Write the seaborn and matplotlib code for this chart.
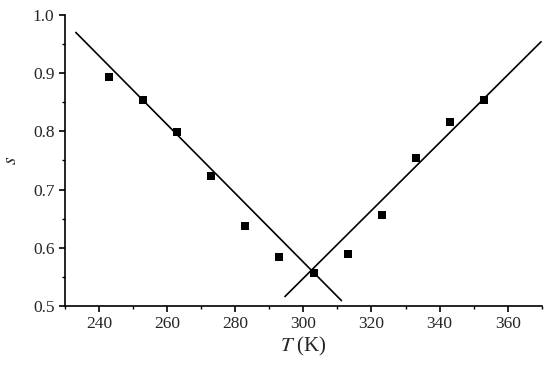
import matplotlib
matplotlib.use('Agg')
import matplotlib.pyplot as plt
import seaborn as sns
import pandas as pd
from matplotlib.ticker import MultipleLocator

# measured points
temps = [243, 253, 263, 273, 283, 293, 303, 313, 323, 333, 343, 353]
s_vals = [0.893, 0.854, 0.798, 0.723, 0.638, 0.584, 0.557, 0.590, 0.656, 0.755, 0.816, 0.853]

# the two straight guide lines (end points)
left_x = [233.2, 311.2]
left_y = [0.970, 0.509]
right_x = [294.6, 369.8]
right_y = [0.516, 0.954]

df = pd.DataFrame({"T": temps, "s": s_vals})

sns.set_style("ticks")
plt.rcParams['font.family'] = ['Liberation Serif', 'DejaVu Serif']
plt.rcParams['mathtext.fontset'] = 'stix'

fig, ax = plt.subplots(figsize=(5.5, 3.65), dpi=100)
fig.subplots_adjust(left=0.118, right=0.985, bottom=0.162, top=0.959)

sns.lineplot(x=left_x, y=left_y, ax=ax, color="black", linewidth=1.2)
sns.lineplot(x=right_x, y=right_y, ax=ax, color="black", linewidth=1.2)
sns.scatterplot(data=df, x="T", y="s", ax=ax, marker="s", s=28,
                color="black", edgecolor="black", linewidth=0, zorder=3)

ax.set_xlim(230, 370)
ax.set_ylim(0.5, 1.0)
ax.xaxis.set_major_locator(MultipleLocator(20))
ax.xaxis.set_minor_locator(MultipleLocator(10))
ax.yaxis.set_major_locator(MultipleLocator(0.1))
ax.yaxis.set_minor_locator(MultipleLocator(0.05))
ax.yaxis.set_major_formatter(plt.FuncFormatter(lambda v, p: f"{v:.1f}"))

ax.tick_params(which="major", direction="out", length=4, width=1.2, labelsize=12.5, color="black")
ax.tick_params(which="minor", direction="out", length=2.5, width=1.0, color="black")

for side in ["top", "right"]:
    ax.spines[side].set_visible(False)
for side in ["left", "bottom"]:
    ax.spines[side].set_linewidth(1.2)
    ax.spines[side].set_color("black")

ax.set_xlabel(r"$T$ (K)", fontsize=15, labelpad=2)
ax.set_ylabel(r"$s$", fontsize=14, labelpad=9)

plt.savefig("out.png", dpi=100)
plt.close()
